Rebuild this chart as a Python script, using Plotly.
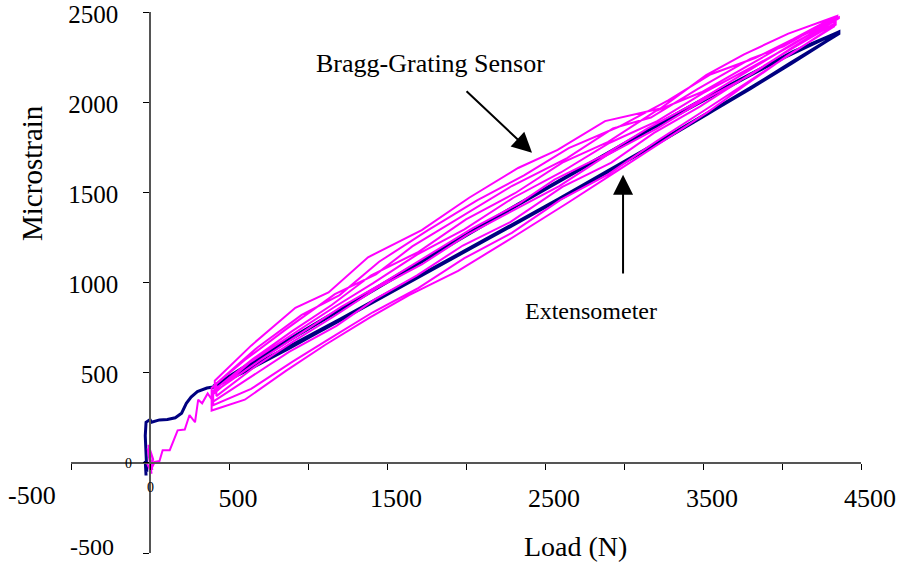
import plotly.graph_objects as go

# ---------------- data ----------------
start_load_ext = [-25, -30, -20, -30, -25, 0, 10, 60, 110, 160, 200, 230, 260, 300, 360]
start_ext = [-70, 10, -50, 150, 225, 240, 225, 238, 240, 250, 275, 330, 365, 395, 415]
start_load_bragg = [-20, 10, -15, 15, -10, 20, 0, 30, 60, 80, 125, 175, 220, 250, 285, 305, 330, 365]
start_bragg = [0, -60, 80, -40, 100, 20, -50, 5, 10, 70, 70, 180, 185, 265, 225, 350, 330, 385]

load_up1 = [400, 620, 880, 1180, 1420, 1690, 1980, 2280, 2610, 2920, 3190, 3480, 3790, 4060, 4340]
bragg_up1 = [340, 465, 615, 760, 905, 1040, 1205, 1335, 1530, 1665, 1830, 1975, 2150, 2295, 2440]
ext_up1 = [420, 515, 635, 780, 895, 1025, 1165, 1310, 1470, 1625, 1760, 1910, 2070, 2215, 2370]

load_dn1 = [4340, 4040, 3760, 3520, 3230, 2880, 2580, 2330, 2020, 1720, 1380, 1130, 920, 640, 410]
bragg_dn1 = [2475, 2380, 2265, 2150, 1965, 1895, 1735, 1635, 1470, 1290, 1140, 945, 860, 650, 455]
ext_dn1 = [2380, 2265, 2135, 2025, 1885, 1710, 1560, 1435, 1275, 1120, 945, 815, 705, 555, 430]

load_up2 = [410, 690, 950, 1210, 1460, 1750, 2040, 2340, 2560, 2870, 3150, 3450, 3830, 4080, 4350]
bragg_up2 = [395, 565, 715, 865, 990, 1145, 1300, 1440, 1570, 1705, 1855, 1995, 2195, 2330, 2460]
ext_up2 = [425, 555, 675, 800, 920, 1060, 1200, 1345, 1450, 1605, 1745, 1900, 2095, 2230, 2375]

load_dn2 = [4350, 4010, 3800, 3470, 3170, 2930, 2640, 2290, 1960, 1660, 1430, 1170, 860, 600, 390]
bragg_dn2 = [2478, 2310, 2240, 2075, 1915, 1855, 1690, 1535, 1360, 1200, 1045, 935, 740, 570, 415]
ext_dn2 = [2385, 2245, 2150, 1995, 1850, 1730, 1585, 1410, 1240, 1085, 965, 830, 670, 530, 415]

load_up3 = [390, 600, 860, 1110, 1390, 1640, 1950, 2250, 2650, 2950, 3240, 3530, 3760, 4030, 4330]
bragg_up3 = [290, 350, 510, 655, 805, 930, 1065, 1225, 1445, 1615, 1780, 1945, 2090, 2255, 2420]
ext_up3 = [415, 505, 625, 745, 880, 1000, 1150, 1295, 1490, 1640, 1785, 1935, 2055, 2200, 2365]

load_dn3 = [4330, 4070, 3830, 3550, 3280, 2970, 2650, 2370, 2070, 1760, 1450, 1200, 960, 680, 420]
bragg_dn3 = [2472, 2350, 2245, 2155, 2010, 1865, 1745, 1595, 1455, 1290, 1115, 930, 820, 640, 440]
ext_dn3 = [2378, 2280, 2170, 2040, 1910, 1755, 1595, 1455, 1300, 1140, 980, 850, 725, 575, 435]

load_up4 = [420, 660, 910, 1160, 1440, 1720, 2010, 2310, 2590, 2890, 3210, 3500, 3810, 4050, 4360]
bragg_up4 = [370, 530, 675, 810, 970, 1100, 1265, 1405, 1535, 1705, 1855, 2010, 2155, 2295, 2465]
ext_up4 = [430, 540, 655, 775, 910, 1045, 1185, 1330, 1465, 1615, 1775, 1925, 2085, 2215, 2380]

load_dn4 = [4360, 4050, 3780, 3490, 3200, 2900, 2610, 2310, 2000, 1700, 1400, 1150, 900, 650, 400]
bragg_dn4 = [2470, 2335, 2200, 2055, 1950, 1780, 1665, 1495, 1350, 1170, 1040, 875, 730, 575, 400]
ext_dn4 = [2390, 2265, 2140, 2005, 1865, 1715, 1570, 1420, 1260, 1105, 950, 820, 690, 555, 420]

load_up5 = [400, 640, 900, 1140, 1410, 1700, 1990, 2290, 2600, 2900, 3200, 3510, 3800, 4040, 4340]
bragg_up5 = [320, 410, 560, 690, 835, 970, 1135, 1275, 1460, 1600, 1780, 1955, 2120, 2260, 2430]
ext_up5 = [420, 525, 645, 760, 890, 1030, 1170, 1315, 1465, 1615, 1765, 1925, 2075, 2205, 2370]

load_dn5 = [4340, 4060, 3800, 3500, 3210, 2910, 2600, 2300, 1990, 1690, 1410, 1160, 890, 630, 400]
bragg_dn5 = [2465, 2315, 2190, 2050, 1895, 1775, 1610, 1470, 1295, 1155, 995, 860, 705, 555, 380]
ext_dn5 = [2382, 2275, 2155, 2015, 1875, 1725, 1570, 1420, 1260, 1105, 960, 830, 690, 550, 425]

x_tick_vals = [-500, 0, 500, 1000, 1500, 2000, 2500, 3000, 3500, 4000, 4500]
x_tick_text = ["", "", "500", "", "1500", "", "2500", "", "3500", "", "4500"]
y_tick_vals = [-500, 0, 500, 1000, 1500, 2000, 2500]
y_tick_text = ["", "", "500", "1000", "1500", "2000", "2500"]

# ---------------- build series ----------------
loads = [load_up1, load_dn1, load_up2, load_dn2, load_up3, load_dn3,
         load_up4, load_dn4, load_up5, load_dn5]
braggs = [bragg_up1, bragg_dn1, bragg_up2, bragg_dn2, bragg_up3, bragg_dn3,
          bragg_up4, bragg_dn4, bragg_up5, bragg_dn5]
exts = [ext_up1, ext_dn1, ext_up2, ext_dn2, ext_up3, ext_dn3,
        ext_up4, ext_dn4, ext_up5, ext_dn5]

ext_x = list(start_load_ext)
ext_y = list(start_ext)
bragg_x = list(start_load_bragg)
bragg_y = list(start_bragg)
for L, B, E in zip(loads, braggs, exts):
    ext_x += L
    ext_y += E
    bragg_x += L
    bragg_y += B

FONT = "Liberation Serif, Times New Roman, serif"

fig = go.Figure()
fig.add_trace(go.Scatter(x=ext_x, y=ext_y, mode="lines",
                         line=dict(color="#000080", width=3),
                         name="Extensometer", cliponaxis=False))
fig.add_trace(go.Scatter(x=bragg_x, y=bragg_y, mode="lines",
                         line=dict(color="#FF00FF", width=2),
                         name="Bragg-Grating Sensor", cliponaxis=False))

axis_common = dict(showgrid=False, zeroline=False, showline=True,
                   linecolor="#555555", linewidth=1.5, tickcolor="#000000",
                   tickwidth=1.2, ticklen=6, ticklabeloverflow="allow",
                   automargin=False)

fig.update_layout(
    width=901, height=565,
    margin=dict(l=71, r=40, t=12, b=12),
    paper_bgcolor="white", plot_bgcolor="white",
    showlegend=False,
    font=dict(family=FONT, color="#000000"),
    xaxis=dict(range=[-500, 4500], anchor="free", position=1/6,
               tickmode="array", tickvals=x_tick_vals, ticktext=x_tick_text,
               ticks="outside", ticklabelstandoff=6, ticklabelshift=9,
               tickfont=dict(family=FONT, size=26, color="#000000"),
               domain=[0, 1], **axis_common),
    yaxis=dict(range=[-500, 2500], anchor="free", position=0.1,
               tickmode="array", tickvals=y_tick_vals, ticktext=y_tick_text,
               ticks="outside", ticklabelstandoff=20, ticklabelshift=2,
               tickfont=dict(family=FONT, size=25, color="#000000"),
               domain=[0, 1], **axis_common),
    xaxis2=dict(range=[-500, 4500], overlaying="x", anchor="free", position=1/6,
                tickmode="array", tickvals=x_tick_vals, showticklabels=False,
                ticks="inside", showgrid=False, zeroline=False, showline=False,
                tickcolor="#000000", tickwidth=1.2, ticklen=6),
    yaxis2=dict(range=[-500, 2500], overlaying="y", anchor="free", position=0.1,
                tickmode="array", tickvals=y_tick_vals, showticklabels=False,
                ticks="inside", showgrid=False, zeroline=False, showline=False,
                tickcolor="#000000", tickwidth=1.2, ticklen=6),
)

C = dict(xanchor="center", yanchor="middle", showarrow=False)
ann = []
# axis titles
ann.append(dict(x=-0.0494, y=0.7024, xref="paper", yref="paper", text="Microstrain",
                textangle=-90, font=dict(family=FONT, size=29, color="#000"), **C))
ann.append(dict(x=2690, y=-466, xref="x", yref="y", text="Load (N)",
                font=dict(family=FONT, size=28, color="#000"), **C))
# odd tick labels
ann.append(dict(x=-0.0494, y=0.1072, xref="paper", yref="paper", text="-500",
                font=dict(family=FONT, size=26, color="#000"), **C))
ann.append(dict(x=0.0266, y=0.0111, xref="paper", yref="paper", text="-500",
                font=dict(family=FONT, size=24, color="#000"), **C))
ann.append(dict(x=0, y=-139, xref="x", yref="y", text="0",
                font=dict(family=FONT, size=14, color="#000"), **C))
ann.append(dict(x=-133, y=-6, xref="x", yref="y", text="0",
                font=dict(family=FONT, size=14, color="#000"), **C))
# labels with arrows
ann.append(dict(x=1778, y=2212, xref="x", yref="y", text="Bragg-Grating Sensor",
                font=dict(family=FONT, size=26, color="#000"), **C))
ann.append(dict(x=2418, y=1719, ax=1994, ay=2068, xref="x", yref="y",
                axref="x", ayref="y", text="", showarrow=True,
                arrowhead=2, arrowsize=2, arrowwidth=2, arrowcolor="#000"))
ann.append(dict(x=2791, y=843, xref="x", yref="y", text="Extensometer",
                font=dict(family=FONT, size=24, color="#000"), **C))
ann.append(dict(x=2994, y=1597, ax=2994, ay=1042, xref="x", yref="y",
                axref="x", ayref="y", text="", showarrow=True,
                arrowhead=2, arrowsize=2, arrowwidth=2, arrowcolor="#000"))
fig.update_layout(annotations=ann)

fig.write_html("out.html", config={"displayModeBar": False},
               post_script="document.body.style.margin='0';document.body.style.overflow='hidden';")
